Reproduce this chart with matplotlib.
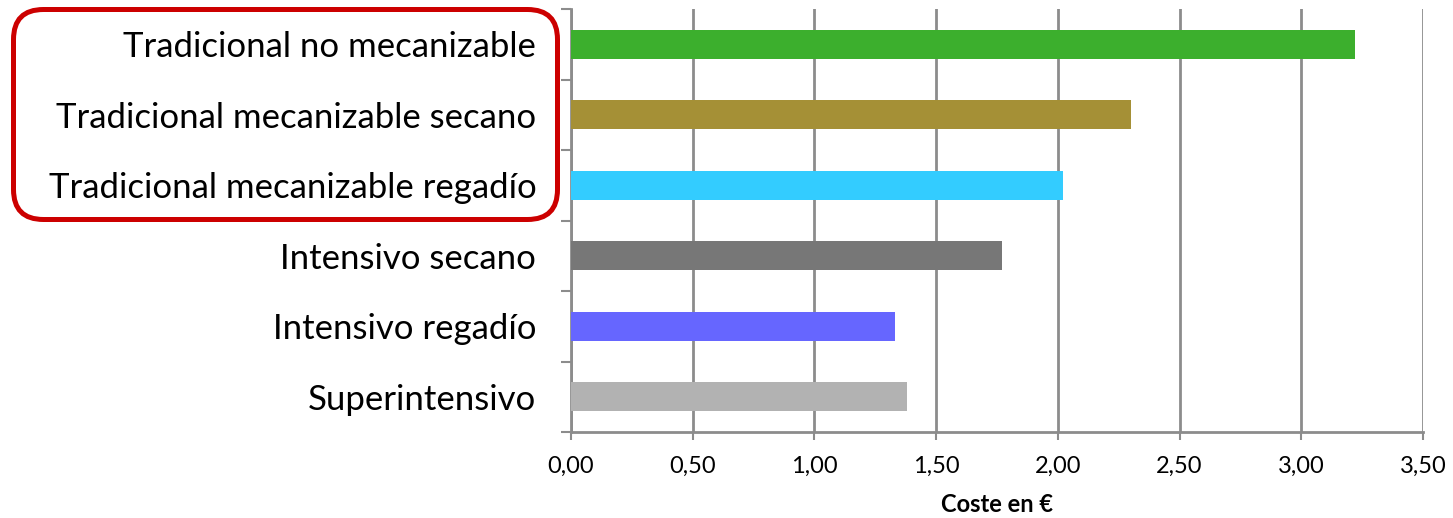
import matplotlib
matplotlib.use("Agg")
import matplotlib.pyplot as plt
from matplotlib.patches import FancyBboxPatch
from matplotlib.ticker import FuncFormatter

# data (top to bottom as in the picture)
categorias = ["Tradicional no mecanizable",
              "Tradicional mecanizable secano",
              "Tradicional mecanizable regadío",
              "Intensivo secano",
              "Intensivo regadío",
              "Superintensivo"]
coste = [3.22, 2.30, 2.02, 1.77, 1.33, 1.38]
colores = ["#3CAF2D", "#A59036", "#33CCFF", "#777777", "#6666FF", "#B2B2B2"]
xticks = [0, 0.5, 1.0, 1.5, 2.0, 2.5, 3.0, 3.5]

plt.rcParams['font.family'] = ['Lato', 'DejaVu Sans']
gris = "#8C8C8C"

fig = plt.figure(figsize=(14.53, 5.18), dpi=100)
ax = fig.add_axes([571 / 1453, 1 - 432 / 518, 852 / 1453, 423 / 518])

n = len(categorias)
pos = list(range(n))[::-1]
ax.barh(pos, coste, height=0.41, color=colores, zorder=3)

ax.set_xlim(0, 3.5)
ax.set_ylim(-0.5, n - 0.5)
ax.set_xticks(xticks)
ax.xaxis.set_major_formatter(FuncFormatter(lambda v, p: f"{v:.2f}".replace(".", ",")))
ax.grid(axis="x", color=gris, linewidth=2, zorder=0)

# category labels centred, ticks on the boundaries
ax.set_yticks([p - 0.5 for p in range(n + 1)])
ax.set_yticklabels([])
ax.set_yticks(pos, minor=True)
ax.set_yticklabels(categorias, minor=True, fontsize=25)
ax.tick_params(axis="y", which="major", length=7, width=1.5, color=gris, direction="out")
ax.tick_params(axis="y", which="minor", length=0, pad=25)
ax.tick_params(axis="x", length=6, width=1.5, color=gris, labelsize=17, pad=11)

for s in ["top", "right"]:
    ax.spines[s].set_visible(False)
for s in ["left", "bottom"]:
    ax.spines[s].set_color(gris)
    ax.spines[s].set_linewidth(2)

ax.set_xlabel("Coste en €", fontsize=17, fontweight="bold", labelpad=12)

# red rounded box around the first three labels (pixel coords)
caja = FancyBboxPatch((13.5, 518 - 219.5), 544, 210,
                      boxstyle="round,pad=0,rounding_size=30",
                      transform=None, fill=False, edgecolor="#CC0000",
                      linewidth=3.6, clip_on=False)
fig.patches.append(caja)

fig.savefig("out.png", dpi=100)
